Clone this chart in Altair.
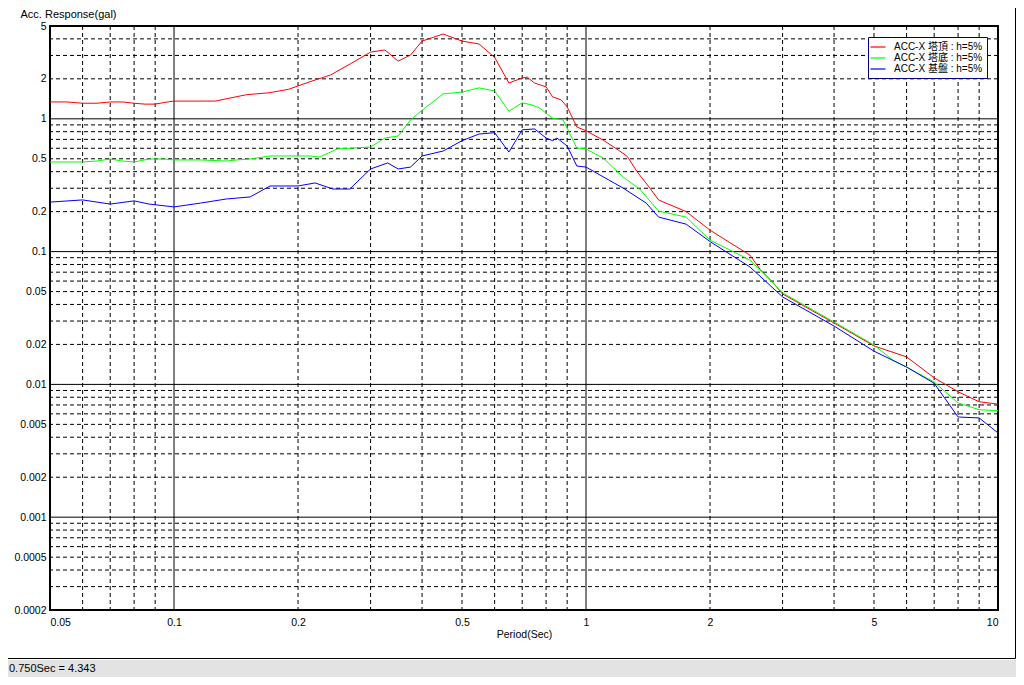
import altair as alt
import pandas as pd

# ---------------- data ----------------
SERIES = ["ACC-X 塔頂 : h=5%", "ACC-X 塔底 : h=5%", "ACC-X 基盤 : h=5%"]
COLORS = ["#ff0000", "#00ff00", "#0000ff"]

P_RED = [0.05, 0.055, 0.06, 0.065, 0.07, 0.075, 0.08, 0.085, 0.09, 0.095, 0.1, 0.12, 0.126,
         0.15, 0.17, 0.19, 0.2, 0.22, 0.24, 0.27, 0.3, 0.325, 0.35, 0.375, 0.4, 0.45, 0.5,
         0.55, 0.6, 0.65, 0.7, 0.72, 0.75, 0.8, 0.83, 0.87, 0.9, 0.95, 1.0, 1.1, 1.2, 1.26,
         1.33, 1.43, 1.5, 1.75, 2.0, 2.5, 2.65, 2.85, 3.0, 4.0, 5.0, 6.0, 7.0, 8.0, 9.0, 10.0]
A_RED = [1.34, 1.34, 1.31, 1.31, 1.34, 1.34, 1.31, 1.29, 1.29, 1.33, 1.36, 1.36, 1.36,
         1.52, 1.57, 1.67, 1.77, 1.96, 2.14, 2.63, 3.18, 3.30, 2.72, 3.02, 3.85, 4.35, 3.85,
         3.66, 2.9, 1.86, 2.03, 2.06, 1.86, 1.74, 1.46, 1.39, 1.23, 0.868, 0.812, 0.692, 0.58, 0.52,
         0.40, 0.30, 0.245, 0.20, 0.145, 0.094, 0.073, 0.058, 0.048, 0.029, 0.0195, 0.0161,
         0.0112, 0.0088, 0.0074, 0.0071]

P_GREEN = [0.05, 0.06, 0.065, 0.07, 0.075, 0.08, 0.087, 0.095, 0.1, 0.116, 0.134, 0.142, 0.153,
           0.171, 0.214, 0.226, 0.249, 0.3, 0.325, 0.35, 0.375, 0.4, 0.45, 0.5, 0.55, 0.6, 0.65,
           0.7, 0.74, 0.77, 0.83, 0.88, 0.95, 1.0, 1.1, 1.23, 1.35, 1.5, 1.75, 2.0, 2.5, 3.0,
           4.0, 5.0, 5.56, 6.0, 7.0, 8.0, 9.0, 10.0]
A_GREEN = [0.473, 0.473, 0.481, 0.498, 0.481, 0.473, 0.498, 0.498, 0.49, 0.49, 0.481, 0.49, 0.498,
           0.525, 0.525, 0.516, 0.593, 0.613, 0.717, 0.742, 0.98, 1.16, 1.54, 1.59, 1.71, 1.62, 1.14,
           1.32, 1.27, 1.21, 1.01, 0.98, 0.603, 0.593, 0.507, 0.365, 0.296, 0.202, 0.182, 0.122,
           0.0864, 0.0489, 0.0295, 0.0198, 0.0152, 0.0135, 0.0104, 0.00725, 0.00645, 0.00634]

P_BLUE = [0.05, 0.06, 0.07, 0.08, 0.087, 0.1, 0.116, 0.134, 0.153, 0.171, 0.2, 0.22, 0.243, 0.267,
          0.3, 0.33, 0.35, 0.375, 0.4, 0.45, 0.5, 0.55, 0.6, 0.65, 0.7, 0.75, 0.8, 0.83, 0.85, 0.9,
          0.95, 1.0, 1.23, 1.4, 1.5, 1.75, 2.0, 2.5, 3.0, 4.0, 5.0, 6.0, 7.0, 8.0, 9.0, 10.0]
A_BLUE = [0.236, 0.245, 0.228, 0.241, 0.228, 0.217, 0.232, 0.249, 0.258, 0.312, 0.312, 0.329, 0.296,
          0.296, 0.419, 0.465, 0.419, 0.433, 0.525, 0.572, 0.684, 0.768, 0.786, 0.562, 0.826, 0.839,
          0.717, 0.684, 0.717, 0.624, 0.441, 0.433, 0.301, 0.232, 0.182, 0.161, 0.119, 0.0766,
          0.0456, 0.0275, 0.0178, 0.0135, 0.0102, 0.00568, 0.00559, 0.00431]

X_TICKS = [0.05, 0.1, 0.2, 0.5, 1, 2, 5, 10]
Y_TICKS = [5, 2, 1, 0.5, 0.2, 0.1, 0.05, 0.02, 0.01, 0.005, 0.002, 0.001, 0.0005, 0.0002]
X_MAJOR = [0.1, 1]
X_MINOR = [0.06, 0.07, 0.08, 0.09, 0.2, 0.3, 0.4, 0.5, 0.6, 0.7, 0.8, 0.9,
           2, 3, 4, 5, 6, 7, 8, 9]
Y_MAJOR = [0.001, 0.01, 0.1, 1]
Y_MINOR = [0.0003, 0.0004, 0.0005, 0.0006, 0.0007, 0.0008, 0.0009,
           0.002, 0.003, 0.004, 0.005, 0.006, 0.007, 0.008, 0.009,
           0.02, 0.03, 0.04, 0.05, 0.06, 0.07, 0.08, 0.09,
           0.2, 0.3, 0.4, 0.5, 0.6, 0.7, 0.8, 0.9, 2, 3, 4]
STATUS_TEXT = "0.750Sec = 4.343"

# ---------------- build tables ----------------
rows = []
for name, ps, vs in zip(SERIES, [P_RED, P_GREEN, P_BLUE], [A_RED, A_GREEN, A_BLUE]):
    for i, (p, v) in enumerate(zip(ps, vs)):
        rows.append({"series": name, "period": p, "acc": v, "ord": i})
df = pd.DataFrame(rows)

FONT = "Liberation Sans, Noto Sans CJK JP"
W, H = 948, 584

xs = alt.Scale(type="log", domain=[0.05, 10], nice=False)
ys = alt.Scale(type="log", domain=[0.0002, 5], nice=False)

AX = alt.Axis(values=X_TICKS, format="~g", title="Period(Sec)", grid=False, ticks=False,
              domain=False, labelOverlap=False, labelFont=FONT, labelFontSize=10.5,
              labelColor="black", labelPadding=7, titleFont=FONT, titleFontSize=10.5,
              titleFontWeight="normal", titleColor="black", titlePadding=2)
AY = alt.Axis(values=Y_TICKS, format="~g", title="Acc. Response(gal)", grid=False, ticks=False,
              domain=False, labelOverlap=False, labelFont=FONT, labelFontSize=10.5,
              labelColor="black", labelPadding=4, labelBaseline="middle",
              titleFont=FONT, titleFontSize=11, titleFontWeight="normal", titleColor="black",
              titleAngle=0, titleAlign="left", titleBaseline="top", titleX=-30, titleY=-18)

one = pd.DataFrame({"a": [0]})

xmaj = alt.Chart(pd.DataFrame({"period": X_MAJOR})).mark_rule(color="black", strokeWidth=1).encode(
    x=alt.X("period:Q", scale=xs, axis=AX))
xmin = alt.Chart(pd.DataFrame({"period": X_MINOR})).mark_rule(
    color="black", strokeWidth=1, strokeDash=[4, 3]).encode(x=alt.X("period:Q", scale=xs, axis=AX))
ymaj = alt.Chart(pd.DataFrame({"acc": Y_MAJOR})).mark_rule(color="black", strokeWidth=1).encode(
    y=alt.Y("acc:Q", scale=ys, axis=AY))
ymin = alt.Chart(pd.DataFrame({"acc": Y_MINOR})).mark_rule(
    color="black", strokeWidth=1, strokeDash=[4, 3]).encode(y=alt.Y("acc:Q", scale=ys, axis=AY))

lines = alt.Chart(df).mark_line(strokeWidth=1).encode(
    x=alt.X("period:Q", scale=xs, axis=AX),
    y=alt.Y("acc:Q", scale=ys, axis=AY),
    color=alt.Color("series:N", scale=alt.Scale(domain=SERIES, range=COLORS),
                    legend=alt.Legend(title=None, orient="none", legendX=818, legendY=11,
                                      direction="vertical", fillColor="white", strokeColor="#000080",
                                      padding=4, symbolType="M-1.5,0H1.5", symbolSize=100,
                                      symbolStrokeWidth=1.2, labelFont=FONT, labelFontSize=10,
                                      labelColor="black", rowPadding=0, labelOffset=10)),
    order="ord:Q",
)

# window frame and status bar (decoration)
status_bg = alt.Chart(one).mark_rect(color="#e3e3e3").encode(
    x=alt.value(-42), x2=alt.value(966), y=alt.value(634), y2=alt.value(651))
frame_r = alt.Chart(one).mark_rule(color="black", strokeWidth=1).encode(
    x=alt.value(965.5), y=alt.value(-26), y2=alt.value(632.5))
frame_b = alt.Chart(one).mark_rule(color="black", strokeWidth=1).encode(
    x=alt.value(-50), x2=alt.value(965.5), y=alt.value(632.5))
status_txt = alt.Chart(one).mark_text(align="left", baseline="middle", font=FONT, fontSize=11,
                                      color="black").encode(
    x=alt.value(-41), y=alt.value(643), text=alt.value(STATUS_TEXT))

chart = alt.layer(ymin, ymaj, xmin, xmaj, lines, status_bg, frame_r, frame_b, status_txt).properties(
    width=W, height=H,
    autosize=alt.AutoSizeParams(type="none"),
    padding={"left": 42, "top": 18, "right": 18, "bottom": 67},
    background="white",
).configure_view(stroke="black", strokeWidth=2)

chart.save("out.html", embed_options={"renderer": "svg", "actions": False})
